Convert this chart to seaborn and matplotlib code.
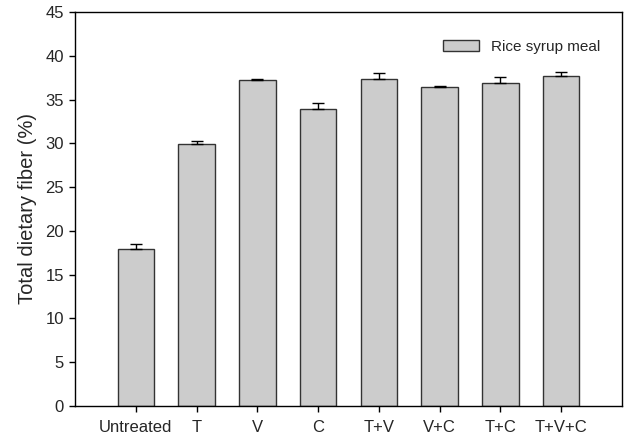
import numpy as np
import pandas as pd
import matplotlib
matplotlib.use("Agg")
import matplotlib.pyplot as plt
import seaborn as sns

# Data
treatments = ["Untreated", "T", "V", "C", "T+V", "V+C", "T+C", "T+V+C"]
fiber_mean = [17.9, 29.9, 37.2, 33.9, 37.4, 36.4, 36.9, 37.7]
fiber_err = [0.65, 0.4, 0.1, 0.75, 0.6, 0.2, 0.65, 0.45]
y_ticks = [0, 5, 10, 15, 20, 25, 30, 35, 40, 45]

sns.set_style("white")
plt.rcParams["font.family"] = ["Liberation Sans", "DejaVu Sans"]

df = pd.DataFrame({"treatment": treatments, "fiber": fiber_mean})

fig = plt.figure(figsize=(6.26, 4.38), dpi=100)
ax = fig.add_axes([75 / 626, 1 - 406 / 438, 547 / 626, 394 / 438])

sns.barplot(
    data=df,
    x="treatment",
    y="fiber",
    color="#cccccc",
    saturation=1,
    width=0.6,
    edgecolor="#333333",
    linewidth=1.0,
    label="Rice syrup meal",
    ax=ax,
)

# upper-only error bars
xpos = np.arange(len(treatments))
ax.errorbar(
    xpos,
    fiber_mean,
    yerr=[np.zeros(len(fiber_err)), fiber_err],
    fmt="none",
    ecolor="black",
    elinewidth=1.0,
    capsize=4.5,
    capthick=1.0,
    zorder=1,
)

ax.set_xlim(-1, 8)
ax.set_ylim(0, 45)
ax.set_yticks(y_ticks)
ax.set_xlabel("")
ax.set_ylabel("Total dietary fiber (%)", fontsize=14.5, labelpad=6)

for side in ["top", "right", "left", "bottom"]:
    ax.spines[side].set_visible(True)
    ax.spines[side].set_color("black")
    ax.spines[side].set_linewidth(1.0)

ax.tick_params(axis="both", direction="out", length=4, width=1, color="black",
               labelsize=12, pad=4, bottom=True, left=True)
ax.tick_params(axis="x", pad=6)

ax.legend(loc="upper right", frameon=False, fontsize=11,
          handlelength=2.3, handleheight=0.8, handletextpad=0.8,
          bbox_to_anchor=(0.985, 0.965))

fig.savefig("out.png", dpi=100)
plt.close(fig)
